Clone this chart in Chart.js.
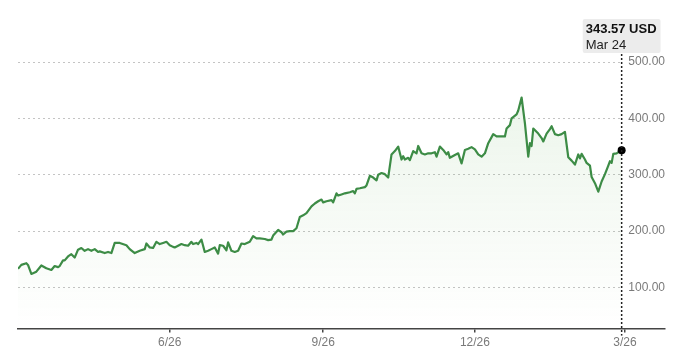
<!DOCTYPE html>
<html>
<head>
<meta charset="utf-8">
<script src="https://cdn.jsdelivr.net/npm/chart.js@4.4.1/dist/chart.umd.min.js"></script>
<style>
  html, body { margin: 0; padding: 0; background: #fff; }
  #wrap { width: 680px; height: 359px; }
</style>
</head>
<body>
<div id="wrap"><canvas id="priceChart" width="680" height="359"></canvas></div>
<script>
// days counted from the first trading day shown (Mar 27, 2025)
const startDate = Date.UTC(2025, 2, 27);
const days = [0,2,5,6,8,11,14,17,20,22,24,25,27,28,30,32,34,36,38,40,42,44,46,48,49,52,54,56,58,61,65,67,70,73,76,77,79,81,83,85,87,89,91,93,94,96,98,100,102,104,105,107,108,110,112,114,116,118,120,121,123,125,126,128,130,132,134,136,139,141,143,145,148,150,152,153,156,158,159,161,163,165,167,169,171,173,175,176,178,180,182,183,185,188,189,191,192,194,196,199,201,202,203,205,208,209,211,213,215,216,218,220,222,224,226,228,230,231,232,234,235,237,239,240,242,244,246,248,250,251,253,255,257,258,259,262,264,266,268,270,272,274,276,278,280,282,285,287,289,292,293,295,296,299,300,302,304,306,307,308,309,312,314,315,317,319,320,322,324,326,328,330,332,334,336,337,338,340,341,343,344,346,348,350,352,354,355,356,357,359,360,362];
const prices = [133,140,143,140,124,128,139,134,131,138,136,138,148,148,155,159,153,167,170,165,168,165,168,163,164,161,163,161,179,179,175,168,161,165,168,178,171,170,181,177,179,181,175,172,171,174,177,175,174,181,177,179,177,185,163,165,168,171,160,175,174,166,180,165,163,165,178,177,181,191,187,187,186,184,185,192,202,198,194,199,200,200,205,225,228,232,240,244,249,253,256,251,253,255,251,267,263,265,267,269,271,267,275,276,278,281,298,295,290,300,303,301,295,336,342,350,327,333,327,330,326,342,338,351,338,336,338,338,340,332,350,344,336,340,330,335,338,320,344,346,349,345,336,332,338,356,372,368,368,368,382,388,400,407,414,437,391,332,356,351,382,373,365,359,373,381,386,372,370,372,376,331,325,318,336,329,337,327,321,316,296,285,270,288,301,316,324,321,337,338,340,343.57];

const xTickDays = [91, 183, 274, 364];
const xTickLabels = ['6/26', '9/26', '12/26', '3/26'];
const yTicks = [100, 200, 300, 400, 500];

const fontFamily = '"Liberation Sans", Arial, Helvetica, sans-serif';
const last = prices.length - 1;
const monthNames = ['Jan','Feb','Mar','Apr','May','Jun','Jul','Aug','Sep','Oct','Nov','Dec'];

function dayLabel(d) {
  const dt = new Date(startDate + d * 86400000);
  return monthNames[dt.getUTCMonth()] + ' ' + dt.getUTCDate();
}

// pin the tooltip just above the plot, centred on the hovered point
Chart.Tooltip.positioners.pinTop = function(items) {
  if (!items.length) return false;
  return { x: items[0].element.x, y: this.chart.chartArea.top - 9 };
};

// dotted vertical marker through the last point
const crosshair = {
  id: 'crosshair',
  afterDatasetsDraw(chart) {
    const pt = chart.getDatasetMeta(0).data[last];
    if (!pt) return;
    const ctx = chart.ctx;
    ctx.save();
    ctx.setLineDash([2, 2]);
    ctx.lineWidth = 1.5;
    ctx.strokeStyle = '#222';
    ctx.beginPath();
    ctx.moveTo(pt.x, chart.chartArea.top - 8);
    ctx.lineTo(pt.x, chart.chartArea.bottom + 7);
    ctx.stroke();
    ctx.restore();
  }
};

const chart = new Chart(document.getElementById('priceChart'), {
  type: 'line',
  data: {
    datasets: [{
      data: days.map((d, i) => ({ x: d, y: prices[i] })),
      borderColor: '#3d8c46',
      borderWidth: 2.2,
      borderJoinStyle: 'round',
      tension: 0,
      fill: 'start',
      backgroundColor(ctx) {
        const area = ctx.chart.chartArea;
        if (!area) return 'rgba(0,0,0,0)';
        const g = ctx.chart.ctx.createLinearGradient(0, area.top, 0, area.bottom);
        g.addColorStop(0, 'rgba(90,170,80,0.13)');
        g.addColorStop(1, 'rgba(90,170,80,0)');
        return g;
      },
      pointRadius: ctx => ctx.dataIndex === last ? 4 : 0,
      pointHoverRadius: ctx => ctx.dataIndex === last ? 4 : 0,
      pointBackgroundColor: '#000',
      pointHoverBackgroundColor: '#000',
      pointBorderWidth: 0,
      pointHoverBorderWidth: 0
    }]
  },
  options: {
    responsive: false,
    animation: false,
    events: [],
    layout: { padding: { left: 18, right: 15, top: 62, bottom: 6 } },
    plugins: {
      legend: { display: false },
      tooltip: {
        enabled: true,
        position: 'pinTop',
        xAlign: 'center',
        yAlign: 'bottom',
        caretSize: 0,
        caretPadding: 0,
        backgroundColor: '#ececec',
        titleColor: '#111',
        bodyColor: '#222',
        displayColors: false,
        cornerRadius: 2,
        padding: { top: 4, bottom: 1, left: 3, right: 4 },
        titleFont: { family: fontFamily, size: 13, weight: 'bold', lineHeight: 1 },
        titleMarginBottom: 3,
        bodyFont: { family: fontFamily, size: 13, lineHeight: 1 },
        callbacks: {
          title: items => items[0].parsed.y.toFixed(2) + ' USD',
          label: item => dayLabel(item.parsed.x)
        }
      }
    },
    scales: {
      x: {
        type: 'linear',
        min: 0,
        max: 388,
        afterBuildTicks: s => { s.ticks = xTickDays.map(v => ({ value: v })); },
        grid: { drawOnChartArea: false, drawTicks: true, tickLength: 4, color: '#444', lineWidth: 1.5 },
        border: { display: true, color: '#444', width: 1.5 },
        ticks: {
          color: '#7a7a7a',
          padding: 3,
          maxRotation: 0,
          autoSkip: false,
          font: { family: fontFamily, size: 12 },
          callback: (v, i) => xTickLabels[i]
        }
      },
      y: {
        position: 'right',
        min: 27,
        max: 500,
        afterBuildTicks: s => { s.ticks = yTicks.map(v => ({ value: v })); },
        grid: { color: '#c4c4c4', lineWidth: 1, drawTicks: false },
        border: { display: false, dash: [2, 3] },
        ticks: {
          mirror: true,
          padding: 0,
          color: '#7a7a7a',
          font: { family: fontFamily, size: 12 },
          callback: v => v.toFixed(2),
          showLabelBackdrop: true,
          backdropColor: '#fff',
          backdropPadding: { left: 8, right: 2, top: 0, bottom: 0 }
        }
      }
    }
  },
  plugins: [crosshair]
});

const pt = chart.getDatasetMeta(0).data[last];
chart.tooltip.setActiveElements([{ datasetIndex: 0, index: last }], { x: pt.x, y: pt.y });
chart.update();
</script>
</body>
</html>
